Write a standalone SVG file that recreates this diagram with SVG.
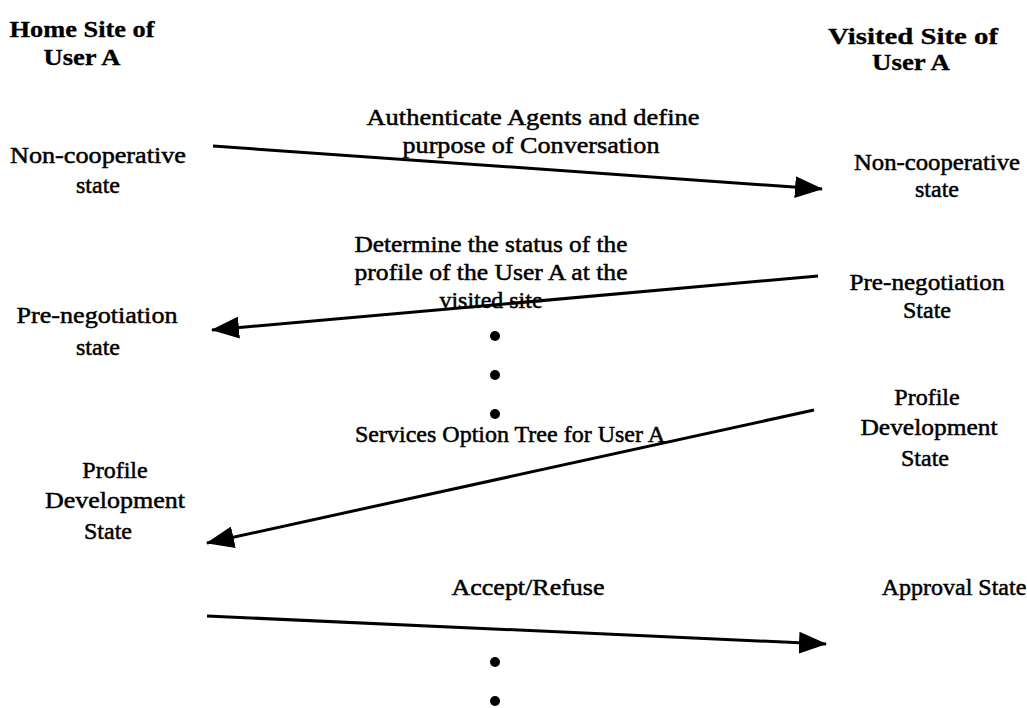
<svg xmlns="http://www.w3.org/2000/svg" width="1027" height="708" viewBox="0 0 1027 708">
  <style>
    text { font-family: "Liberation Serif", "Times New Roman", serif; font-size: 24px; fill: #000; stroke: #000; stroke-width: 0.5; text-anchor: middle; }
    .hdr { font-weight: bold; font-size: 23px; stroke-width: 0.3; }
    .msg { stroke: #000; stroke-width: 3; fill: none; }
    .dot { fill: #000; }
  </style>
  <defs>
    <marker id="arrow" viewBox="0 0 28 22" refX="27" refY="11" markerWidth="28" markerHeight="22" markerUnits="userSpaceOnUse" orient="auto">
      <path d="M0,0 L28,11 L0,22 Z" fill="#000"/>
    </marker>
  </defs>

  <g id="home-header">
    <text class="hdr" x="82" y="37" textLength="145" lengthAdjust="spacingAndGlyphs">Home Site of</text>
    <text class="hdr" x="82" y="65" textLength="77" lengthAdjust="spacingAndGlyphs">User A</text>
  </g>
  <g id="visited-header">
    <text class="hdr" x="913" y="44" textLength="170" lengthAdjust="spacingAndGlyphs">Visited Site of</text>
    <text class="hdr" x="911" y="70" textLength="78" lengthAdjust="spacingAndGlyphs">User A</text>
  </g>

  <g id="home-noncoop">
    <text x="98" y="163" textLength="176" lengthAdjust="spacingAndGlyphs">Non-cooperative</text>
    <text x="98" y="193">state</text>
  </g>
  <g id="visited-noncoop">
    <text x="937" y="170" textLength="166" lengthAdjust="spacingAndGlyphs">Non-cooperative</text>
    <text x="937" y="197">state</text>
  </g>
  <g id="visited-prenego">
    <text x="927" y="290" textLength="155" lengthAdjust="spacingAndGlyphs">Pre-negotiation</text>
    <text x="927" y="318">State</text>
  </g>
  <g id="home-prenego">
    <text x="97" y="323" textLength="161" lengthAdjust="spacingAndGlyphs">Pre-negotiation</text>
    <text x="98" y="355">state</text>
  </g>
  <g id="visited-profile">
    <text x="927" y="405">Profile</text>
    <text x="929" y="435" textLength="137" lengthAdjust="spacingAndGlyphs">Development</text>
    <text x="925" y="466">State</text>
  </g>
  <g id="home-profile">
    <text x="115" y="478">Profile</text>
    <text x="115" y="508" textLength="140" lengthAdjust="spacingAndGlyphs">Development</text>
    <text x="108" y="539">State</text>
  </g>
  <g id="visited-approval">
    <text x="954" y="595" font-size="21">Approval State</text>
  </g>

  <g id="labels">
    <text x="533" y="125" textLength="333" lengthAdjust="spacingAndGlyphs">Authenticate Agents and define</text>
    <text x="531" y="153" textLength="257" lengthAdjust="spacingAndGlyphs">purpose of Conversation</text>
    <text x="491" y="252" textLength="273" lengthAdjust="spacingAndGlyphs">Determine the status of the</text>
    <text x="491" y="280" textLength="273" lengthAdjust="spacingAndGlyphs">profile of the User A at the</text>
    <text x="491" y="308" textLength="103" lengthAdjust="spacingAndGlyphs">visited site</text>
    <text x="510" y="442">Services Option Tree for User A</text>
    <text x="528" y="595" textLength="153" lengthAdjust="spacingAndGlyphs">Accept/Refuse</text>
  </g>

  <g id="connectors">
    <line class="msg" x1="213" y1="146" x2="822" y2="189" marker-end="url(#arrow)"/>
    <line class="msg" x1="818" y1="276" x2="212" y2="330" marker-end="url(#arrow)"/>
    <line class="msg" x1="814" y1="410" x2="207" y2="543" marker-end="url(#arrow)"/>
    <line class="msg" x1="207" y1="616" x2="826" y2="644" marker-end="url(#arrow)"/>
  </g>

  <g id="continuation">
    <circle class="dot" cx="495" cy="336" r="5"/>
    <circle class="dot" cx="495" cy="375" r="5"/>
    <circle class="dot" cx="495" cy="414" r="5"/>
    <circle class="dot" cx="495" cy="662" r="5"/>
    <circle class="dot" cx="495" cy="701" r="5"/>
  </g>
</svg>
